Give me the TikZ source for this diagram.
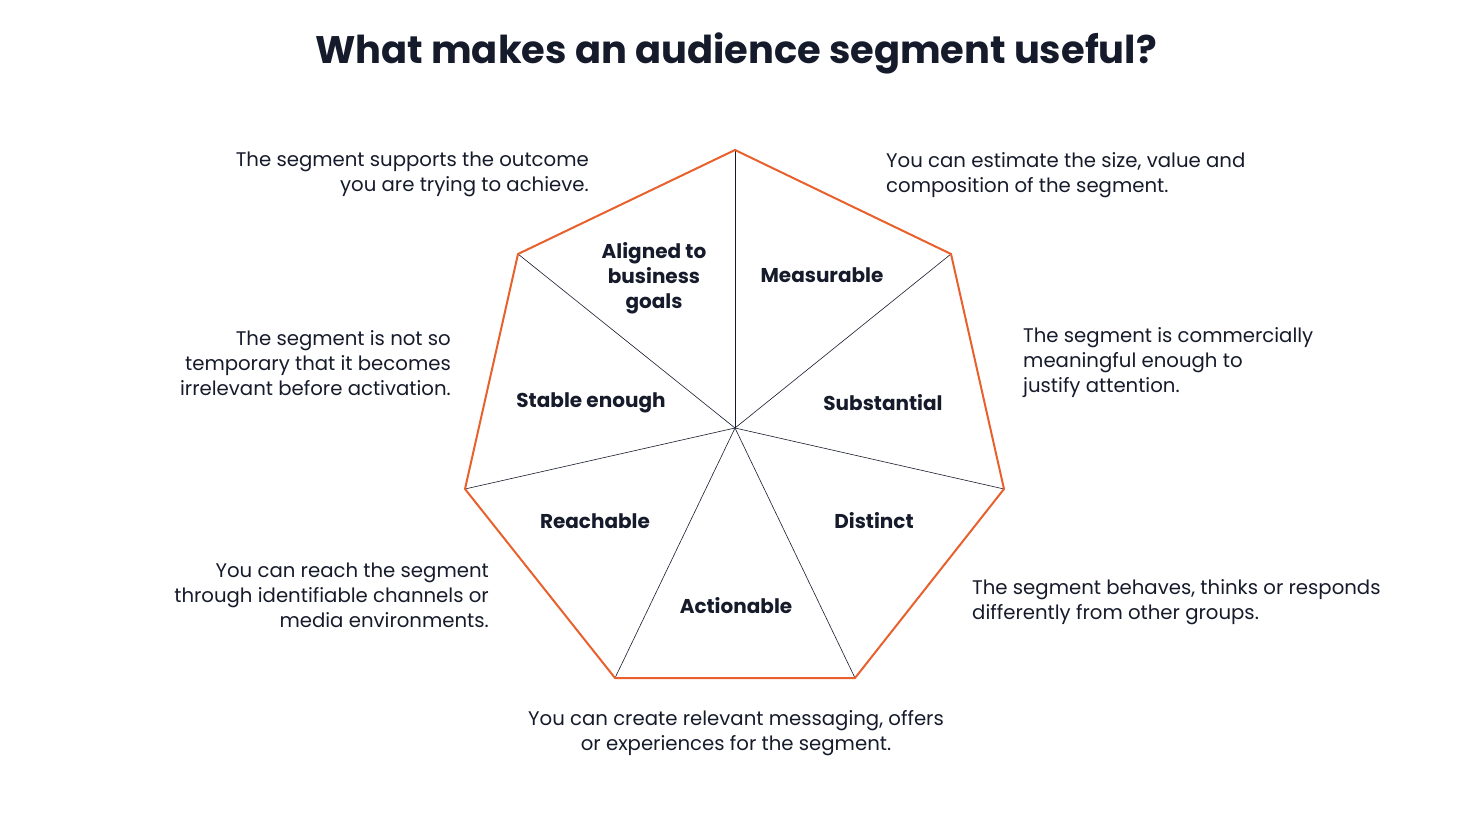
\documentclass[tikz,border=0pt]{standalone}
\usepackage{fontspec}
\setmainfont{Poppins}
\definecolor{ink}{HTML}{161B2B}
\definecolor{org}{HTML}{E8602C}
\begin{document}
\begin{tikzpicture}[x=1pt,y=-1pt,
  desc/.style={font=\fontsize{19.7}{25}\selectfont,text=ink,inner sep=0pt},
  lab/.style={font=\fontsize{20}{25}\selectfont\bfseries,text=ink,align=center,inner sep=0pt},
  spoke/.style={draw=ink,line width=0.6pt}]
\useasboundingbox (0,0) rectangle (1471,829);
\node[font=\fontsize{38.4}{44}\selectfont\bfseries,text=ink] (title) at (736,53) {What makes an audience segment useful?};
\coordinate (c) at (735,428);
\coordinate (v1) at (735,150);
\coordinate (v2) at (951,254);
\coordinate (v3) at (1004,489);
\coordinate (v4) at (855,678);
\coordinate (v5) at (615,678);
\coordinate (v6) at (465,489);
\coordinate (v7) at (518,254);
\foreach \i in {1,...,7} \draw[spoke] (c) -- (v\i);
\draw[org,line width=2pt,line join=miter] (v1)--(v2)--(v3)--(v4)--(v5)--(v6)--(v7)--cycle;
\node[lab] (l1) at (654,278) {Aligned to\\business\\goals};
\node[lab] (l2) at (822,275) {Measurable};
\node[lab] (l3) at (883,403) {Substantial};
\node[lab] (l4) at (874,521) {Distinct};
\node[lab] (l5) at (736,606) {Actionable};
\node[lab] (l6) at (595,521) {Reachable};
\node[lab] (l7) at (591,403) {Stable enough};
\node[desc,anchor=north east,align=right] (d1) at (589,152) {The segment supports the outcome\\you are trying to achieve.};
\node[desc,anchor=north west,align=left] (d2) at (886,152) {You can estimate the size, value and\\composition of the segment.};
\node[desc,anchor=north west,align=left] (d3) at (1023,327) {The segment is commercially\\meaningful enough to\\justify attention.};
\node[desc,anchor=north west,align=left] (d4) at (972,579) {The segment behaves, thinks or responds\\differently from other groups.};
\node[desc,anchor=north,align=center] (d5) at (736,710) {You can create relevant messaging, offers\\or experiences for the segment.};
\node[desc,anchor=north east,align=right] (d6) at (489,563) {You can reach the segment\\through identifiable channels or\\media environments.};
\node[desc,anchor=north east,align=right] (d7) at (451,330) {The segment is not so\\temporary that it becomes\\irrelevant before activation.};
\end{tikzpicture}
\end{document}
